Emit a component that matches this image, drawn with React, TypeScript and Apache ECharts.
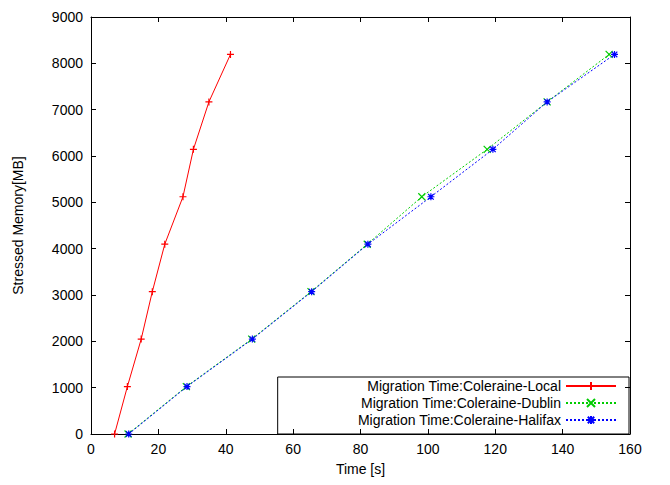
import * as echarts from 'echarts';
import React, { useEffect, useRef } from 'react';

const memory = [0, 1024, 2048, 3072, 4096, 5120, 6144, 7168, 8192];
const localTime = [7.0, 10.8, 14.9, 18.2, 21.9, 27.3, 30.4, 35.0, 41.4];
const dublinTime = [11.0, 28.3, 47.7, 65.3, 82.0, 98.2, 117.6, 135.4, 153.8];
const halifaxTime = [11.2, 28.5, 47.9, 65.5, 82.2, 100.9, 119.3, 135.4, 155.4];
const seriesNames = [
  'Migration Time:Coleraine-Local',
  'Migration Time:Coleraine-Dublin',
  'Migration Time:Coleraine-Halifax',
];

const pair = (xs: number[]) => xs.map((x, i) => [x, memory[i]]);

const App: React.FC = () => {
  const chartRef = useRef<HTMLDivElement>(null);

  useEffect(() => {
    if (!chartRef.current) return;
    const chart = echarts.init(chartRef.current, undefined, { renderer: 'svg' });
    const font = 'Liberation Sans, Arial, sans-serif';
    const axisCommon = {
      axisLine: { show: true, onZero: false, lineStyle: { color: '#000' } },
      axisTick: { inside: true, length: 5, lineStyle: { color: '#000' } },
      axisLabel: { color: '#000', fontSize: 14, fontFamily: font, formatter: (v: number) => String(v) },
      splitLine: { show: false },
      nameLocation: 'middle' as const,
      nameTextStyle: { color: '#000', fontSize: 14, fontFamily: font },
    };
    const mirror = { show: true, axisLabel: { show: false }, name: '' };
    const mk = (name: string, data: number[][], color: string, symbol: string, dashed: boolean) => ({
      name,
      type: 'line',
      data,
      symbol,
      symbolSize: 7,
      itemStyle: { color: 'none', borderColor: color, borderWidth: 1.2 },
      lineStyle: { color, width: 1, type: dashed ? [2, 2] : 'solid' },
    });
    const plus = 'path://M5,0 L5,10 M0,5 L10,5';
    const cross = 'path://M0,0 L10,10 M10,0 L0,10';
    const star = 'path://M5,0 L5,10 M0,5 L10,5 M1,1 L9,9 M9,1 L1,9';

    chart.setOption({
      animation: false,
      textStyle: { fontFamily: font },
      grid: { left: 83, right: 32, top: 9, bottom: 43, outerBoundsMode: 'none', containLabel: false },
      xAxis: [
        { ...axisCommon, type: 'value', min: 0, max: 160, interval: 20, name: 'Time [s]', nameGap: 28 },
        { ...axisCommon, ...mirror, type: 'value', position: 'top', min: 0, max: 160, interval: 20 },
      ],
      yAxis: [
        { ...axisCommon, type: 'value', min: 0, max: 9000, interval: 1000, name: 'Stressed Memory[MB]', nameGap: 66 },
        { ...axisCommon, ...mirror, type: 'value', position: 'right', min: 0, max: 9000, interval: 1000 },
      ],
      legend: {
        right: 33,
        bottom: 43,
        orient: 'vertical',
        align: 'right',
        itemGap: 3,
        itemWidth: 50,
        itemHeight: 10,
        padding: [2, 12, 7, 80],
        borderColor: '#000',
        borderWidth: 1,
        textStyle: { color: '#000', fontSize: 14, fontFamily: font },
        data: seriesNames,
      },
      series: [
        mk(seriesNames[0], pair(localTime), '#ff0000', plus, false),
        mk(seriesNames[1], pair(dublinTime), '#00cc00', cross, true),
        mk(seriesNames[2], pair(halifaxTime), '#0000ff', star, true),
      ],
    });
    return () => chart.dispose();
  }, []);

  return <div ref={chartRef} style={{ width: 654, height: 469 }} />;
};

export default App;
